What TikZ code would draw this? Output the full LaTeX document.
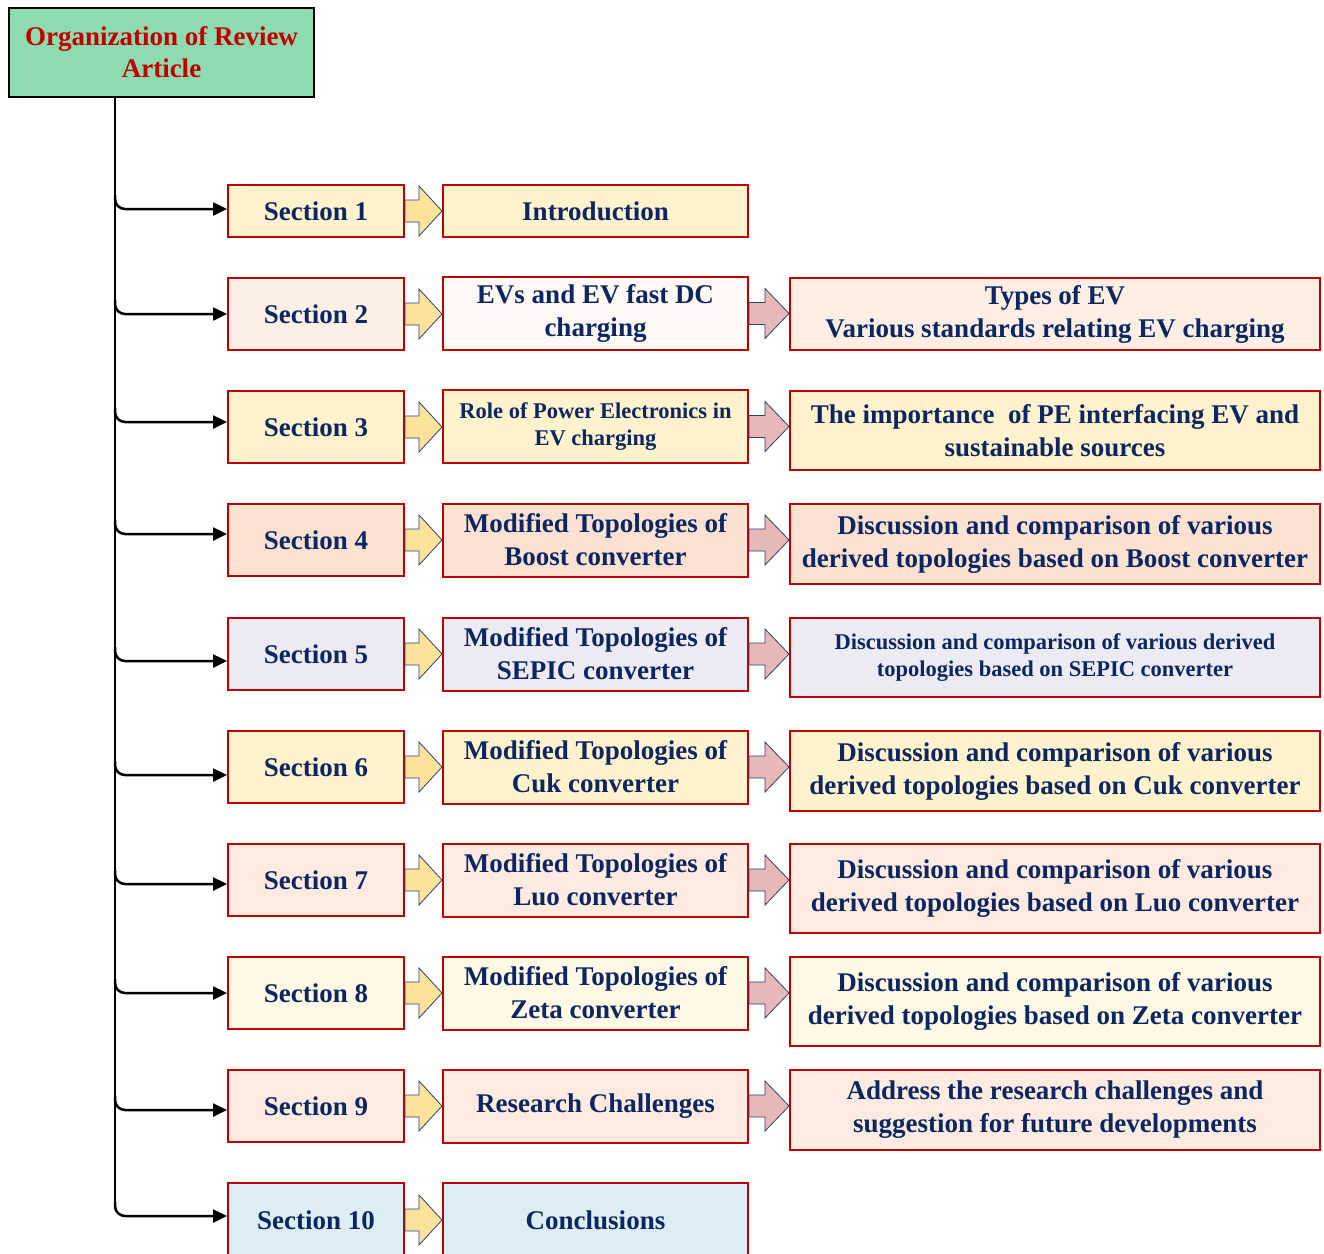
\documentclass[tikz,border=0pt]{standalone}
\usepackage{fontspec}
\setmainfont{Liberation Serif}
\usetikzlibrary{calc,arrows.meta}
\definecolor{boxred}{HTML}{C00000}
\definecolor{navy}{HTML}{0B2660}
\definecolor{cgreen}{HTML}{8FDBB0}
\definecolor{cred}{HTML}{C00000}
\definecolor{cyel}{HTML}{FFF2CC}
\definecolor{cpa}{HTML}{FCEFE6}
\definecolor{cpb}{HTML}{FFF8F4}
\definecolor{cpc}{HTML}{FCEEE3}
\definecolor{cpeach}{HTML}{FBE1D1}
\definecolor{clav}{HTML}{ECEAF2}
\definecolor{clp}{HTML}{FDEBE1}
\definecolor{cly}{HTML}{FEF8E4}
\definecolor{cblue}{HTML}{DCEEF4}
\definecolor{arryel}{HTML}{FDE39A}
\definecolor{arrpink}{HTML}{E6B9B8}
\definecolor{arrnavy}{HTML}{2A3F7A}
\tikzset{
  box/.style={draw=boxred, line width=2pt, inner sep=2pt, align=center, text=navy,
    font=\bfseries\fontsize{27}{33}\selectfont},
  smalltext/.style={font=\bfseries\fontsize{22.5}{27}\selectfont},
  secbox/.style={box, minimum width=176pt, minimum height=72pt},
  midbox/.style={box, minimum width=305pt, minimum height=73pt},
  rbox/.style={box, minimum width=530pt},
  trunkline/.style={line width=2.5pt},
  conn/.style={line width=2.5pt, rounded corners=10pt, -{Triangle[length=14pt,width=13pt]}},
  yarr/.style={fill=arryel, draw=arrnavy, line width=0.8pt, line join=miter},
  parr/.style={fill=arrpink, draw=arrnavy, line width=0.8pt, line join=miter},
}
\newcommand\blockarr[4]{%
  \path (#1.east) coordinate (baA) (#2.west) coordinate (baB);
  \draw[#3] let \p1=(baA), \p2=(baB) in
    (\x1,\y1+11pt) -- (\x1+#4,\y1+11pt) -- (\x1+#4,\y1+25pt) -- (\x2,\y1)
    -- (\x1+#4,\y1-25pt) -- (\x1+#4,\y1-11pt) -- (\x1,\y1-11pt) -- cycle;}
\begin{document}
\begin{tikzpicture}[x=1pt,y=-1pt]
\useasboundingbox (0,0) rectangle (1324,1253);

\node[draw=black, line width=2.2pt, fill=cgreen, minimum width=305pt, minimum height=89pt,
  align=center, text=cred, font=\bfseries\fontsize{27}{32}\selectfont]
  (title) at (161.5,52.5) {Organization of Review\\Article};
\coordinate (trunk) at ([xshift=-46.5pt]title.south);

% Row 1
\node[secbox, fill=cyel, minimum height=52pt] (s1) at (316,211) {Section 1};
\node[midbox, fill=cyel, minimum height=52pt] (m1) at (595.5,211) {Introduction};
% Row 2
\node[secbox, fill=cpa] (s2) at (316,314) {Section 2};
\node[midbox, fill=cpb] (m2) at (595.5,313.5) {EVs and EV fast DC\\charging};
\node[rbox, fill=cpc, minimum height=72pt] (r2) at (1055,314) {Types of EV\\Various standards relating EV charging};
% Row 3
\node[secbox, fill=cyel] (s3) at (316,427) {Section 3};
\node[midbox, fill=cyel, smalltext] (m3) at (595.5,426.5) {Role of Power Electronics in\\EV charging};
\node[rbox, fill=cyel, minimum height=79pt] (r3) at (1055,430.5) {The importance~ of PE interfacing EV and\\sustainable sources};
% Row 4
\node[secbox, fill=cpeach] (s4) at (316,540) {Section 4};
\node[midbox, fill=cpeach] (m4) at (595.5,540) {Modified Topologies of\\Boost converter};
\node[rbox, fill=cpeach, minimum height=80pt] (r4) at (1055,544) {Discussion and comparison of various\\derived topologies based on Boost converter};
% Row 5
\node[secbox, fill=clav] (s5) at (316,654) {Section 5};
\node[midbox, fill=clav] (m5) at (595.5,654) {Modified Topologies of\\SEPIC converter};
\node[rbox, fill=clav, minimum height=79pt, smalltext] (r5) at (1055,657.5) {Discussion and comparison of various derived\\topologies based on SEPIC converter};
% Row 6
\node[secbox, fill=cyel] (s6) at (316,767) {Section 6};
\node[midbox, fill=cyel] (m6) at (595.5,767) {Modified Topologies of\\Cuk converter};
\node[rbox, fill=cyel, minimum height=80pt] (r6) at (1055,771) {Discussion and comparison of various\\derived topologies based on Cuk converter};
% Row 7
\node[secbox, fill=clp] (s7) at (316,880) {Section 7};
\node[midbox, fill=clp] (m7) at (595.5,880) {Modified Topologies of\\Luo converter};
\node[rbox, fill=clp, minimum height=89pt] (r7) at (1055,888.5) {Discussion and comparison of various\\derived topologies based on Luo converter};
% Row 8
\node[secbox, fill=cly] (s8) at (316,993) {Section 8};
\node[midbox, fill=cly] (m8) at (595.5,993) {Modified Topologies of\\Zeta converter};
\node[rbox, fill=cly, minimum height=89pt] (r8) at (1055,1001.5) {Discussion and comparison of various\\derived topologies based on Zeta converter};
% Row 9
\node[secbox, fill=clp] (s9) at (316,1106) {Section 9};
\node[midbox, fill=clp] (m9) at (595.5,1106) {Research Challenges};
\node[rbox, fill=clp, minimum height=80pt] (r9) at (1055,1110) {Address the research challenges and\\suggestion for future developments};
% Row 10
\node[secbox, fill=cblue, minimum height=74pt] (s10) at (316,1220) {Section 10};
\node[midbox, fill=cblue, minimum height=74pt] (m10) at (595.5,1220) {Conclusions};

% trunk and branches
\draw[trunkline] (trunk) -- ($(trunk |- s10.west)+(0,-18)$);
\foreach \i/\o in {1/-2,2/0,3/-5,4/-6,5/7,6/8,7/4,8/0,9/4,10/-4}
  \draw[conn] ($(trunk |- s\i.west)+(0,\o-14)$) |- ($(s\i.west)+(0,\o)$);

% block arrows
\foreach \i in {1,...,10} { \blockarr{s\i}{m\i}{yarr}{14pt} }
\foreach \i in {2,...,9} { \blockarr{m\i}{r\i}{parr}{16pt} }
\end{tikzpicture}
\end{document}
